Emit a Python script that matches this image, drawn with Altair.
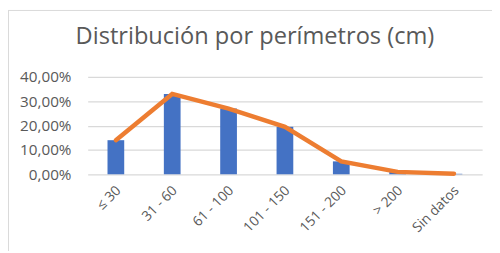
import altair as alt
import pandas as pd

categories = ["≤ 30", "31 - 60", "61 - 100", "101 - 150", "151 - 200", "> 200", "Sin datos"]
values = [0.14, 0.33, 0.27, 0.195, 0.053, 0.01, 0.002]
y_ticks = [0, 0.1, 0.2, 0.3, 0.4]
title_text = ["Distribución por perímetros (cm)"]

df = pd.DataFrame({"cat": categories, "val": values})
tdf = pd.DataFrame({"t": title_text})

FONT = "Open Sans"
GRAY = "#595959"

x = alt.X("cat:N", sort=categories, title=None,
          scale=alt.Scale(paddingInner=0, paddingOuter=0),
          axis=alt.Axis(labelAngle=-45, labelAlign="right", labelBaseline="middle",
                        labelFont=FONT, labelFontSize=14, labelColor=GRAY,
                        ticks=False, domain=False, labelPadding=14, labelOffset=3, grid=False))
y = alt.Y("val:Q", title=None,
          scale=alt.Scale(domain=[0, 0.4], nice=False),
          axis=alt.Axis(values=y_ticks, labelExpr="replace(format(datum.value, '.2%'), '.', ',')",
                        labelFont=FONT, labelFontSize=15.5, labelColor=GRAY, labelPadding=17,
                        ticks=False, domain=False, gridColor="#D9D9D9", gridWidth=1.3))

bars = alt.Chart(df).mark_bar(size=17, color="#4472C4").encode(x=x, y=y)
line = alt.Chart(df).mark_line(color="#ED7D31", strokeWidth=4.5, strokeCap="round").encode(x=x, y=y)

title = alt.Chart(tdf).mark_text(font=FONT, fontSize=24, color=GRAY, align="center",
                                 baseline="alphabetic").encode(
    text="t:N", x=alt.value(170), y=alt.value(-33.5))

border_left = alt.Chart(tdf).mark_rule(color="#D9D9D9", strokeWidth=1).encode(
    x=alt.value(-80.5), y=alt.value(-67.5), y2=alt.value(177))
border_top = alt.Chart(tdf).mark_rule(color="#D9D9D9", strokeWidth=1).encode(
    x=alt.value(-81), x2=alt.value(420), y=alt.value(-67.5))

chart = alt.layer(border_left, border_top, bars, line, title).properties(
    width=401, height=99,
    autosize=alt.AutoSizeParams(type="none"),
    padding={"left": 81, "top": 68, "right": 10, "bottom": 78},
).configure_view(stroke=None)

chart.save("out.html", embed_options={"renderer": "svg", "actions": False})
